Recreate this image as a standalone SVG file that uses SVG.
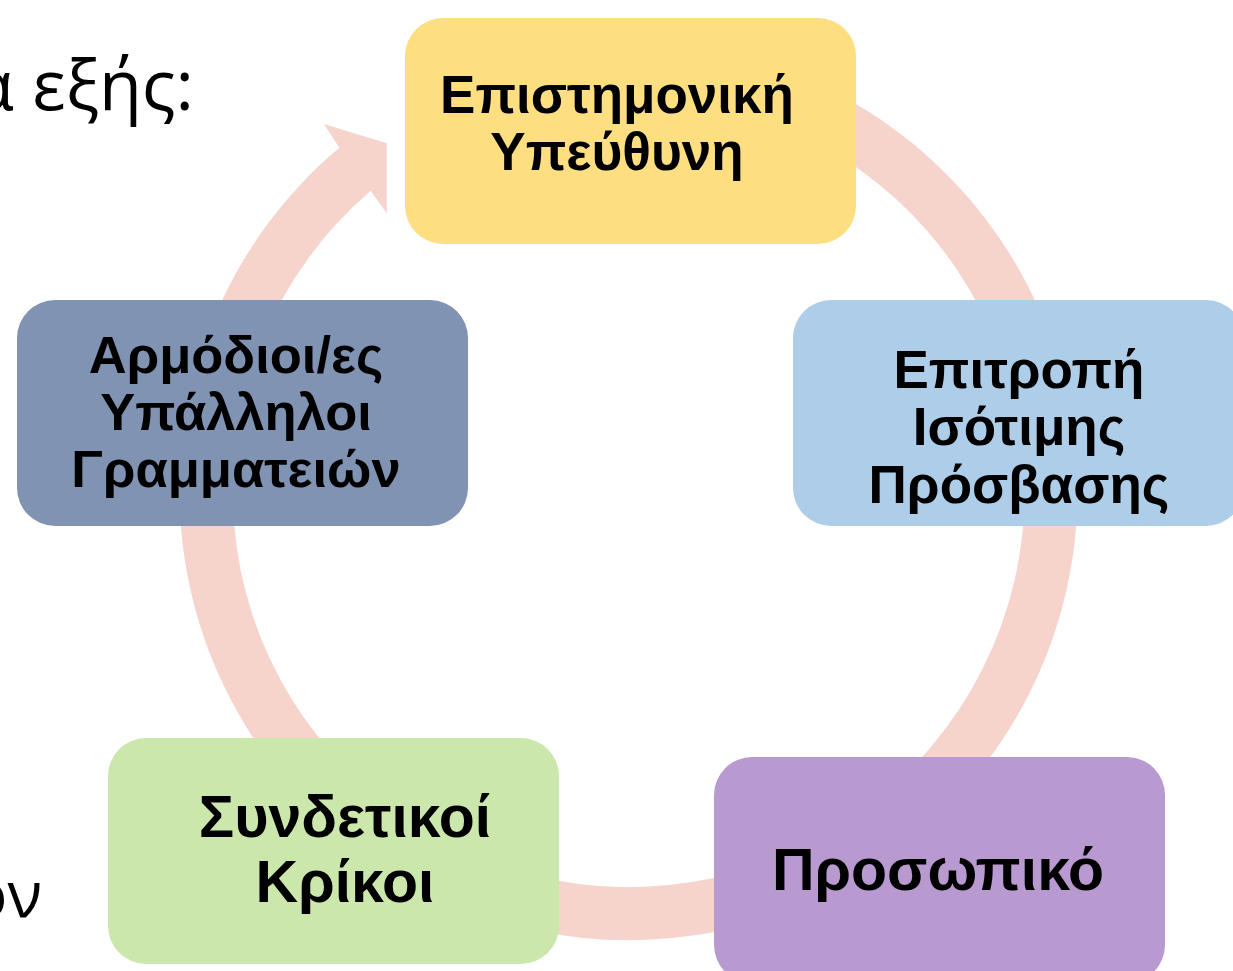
<svg xmlns="http://www.w3.org/2000/svg" width="1233" height="971" viewBox="0 0 1233 971">
<style>
.lbl{font-family:"Liberation Sans",Arial,"Noto Sans",sans-serif;font-weight:bold;fill:#000;text-anchor:middle}
.body{font-family:"Open Sans","Noto Sans",sans-serif;fill:#000}
.box{stroke:none}
</style>
<rect width="1233" height="971" fill="#ffffff"/>
<text class="body" x="194" y="110" font-size="70" text-anchor="end">α εξής:</text>
<text class="body" x="42" y="917" font-size="64" text-anchor="end">ον</text>
<g id="connectors">
<path fill="#F6D4CB" d="M591.4,43.7 A449,449 0 1 1 339.3,147.7 L324,124 L386.7,143.3 L386.7,213.3 L370.7,190.7 A396,396 0 1 0 596,96.5 Z"/>
</g>
<g id="node-epistimoniki">
<rect class="box" x="405" y="18" width="451" height="226" rx="38" fill="#FDDF82"/>
<text class="lbl" font-size="53"><tspan x="617" y="113">Επιστημονική</tspan><tspan x="617" y="170">Υπεύθυνη</tspan></text>
</g>
<g id="node-epitropi">
<rect class="box" x="793" y="300" width="451" height="226" rx="38" fill="#AECDE8"/>
<text class="lbl" font-size="53"><tspan x="1019" y="388">Επιτροπή</tspan><tspan x="1019" y="445">Ισότιμης</tspan><tspan x="1019" y="503">Πρόσβασης</tspan></text>
</g>
<g id="node-prosopiko">
<rect class="box" x="714" y="757" width="451" height="226" rx="38" fill="#B899D0"/>
<text class="lbl" font-size="59" x="938" y="890">Προσωπικό</text>
</g>
<g id="node-syndetikoi">
<rect class="box" x="108" y="738" width="451" height="226" rx="38" fill="#CBE7AB"/>
<text class="lbl" font-size="59"><tspan x="345" y="837">Συνδετικοί</tspan><tspan x="345" y="902">Κρίκοι</tspan></text>
</g>
<g id="node-armodioi">
<rect class="box" x="17" y="300" width="451" height="226" rx="38" fill="#8093B3"/>
<text class="lbl" font-size="52.5"><tspan x="236" y="373">Αρμόδιοι/ες</tspan><tspan x="236" y="430">Υπάλληλοι</tspan><tspan x="236" y="487">Γραμματειών</tspan></text>
</g>
</svg>
